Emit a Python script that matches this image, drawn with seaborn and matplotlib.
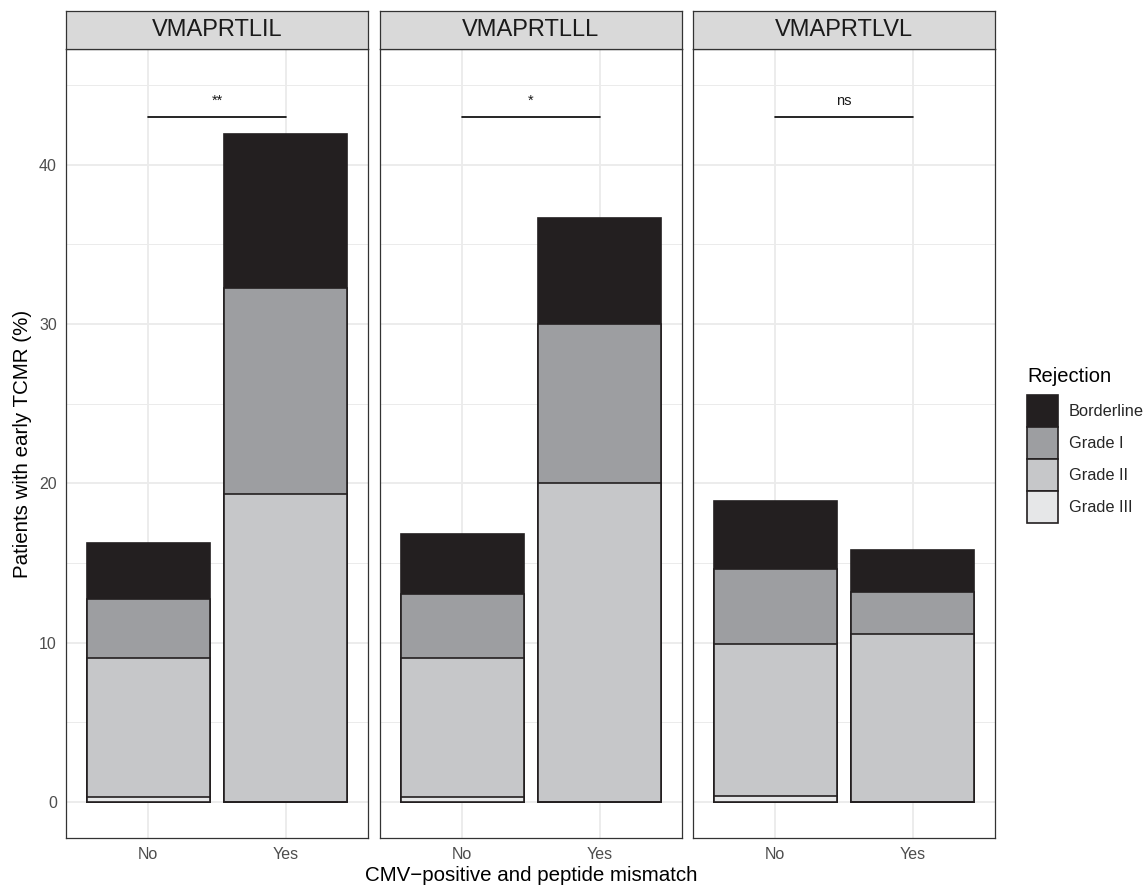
import numpy as np
import pandas as pd
import matplotlib
matplotlib.use("Agg")
import matplotlib.pyplot as plt
from matplotlib.patches import Patch
from matplotlib.ticker import MultipleLocator, FixedLocator
import seaborn as sns

# ---------------- data ----------------
peptides = ["VMAPRTLIL", "VMAPRTLLL", "VMAPRTLVL"]
mismatch = ["No", "Yes"]
grades = ["Borderline", "Grade I", "Grade II", "Grade III"]
# segment percentages per peptide: [No, Yes]
borderline = [[3.52, 9.68], [3.81, 6.67], [4.25, 2.63]]
grade_i = [[3.70, 12.90], [3.99, 10.00], [4.73, 2.63]]
grade_ii = [[8.75, 19.35], [8.73, 20.00], [9.57, 10.53]]
grade_iii = [[0.31, 0.00], [0.31, 0.00], [0.35, 0.00]]
signif = ["**", "*", "ns"]
signif_y = 43.0
colors = ["#231F20", "#9D9EA1", "#C6C7C9", "#E6E7E8"]

seg = {"Borderline": borderline, "Grade I": grade_i,
       "Grade II": grade_ii, "Grade III": grade_iii}
rows = []
for pi, p in enumerate(peptides):
    for mi, m in enumerate(mismatch):
        for g in grades:
            rows.append(dict(peptide=p, cmv=m, grade=g, value=seg[g][pi][mi]))
df = pd.DataFrame(rows)
stack_order = ["Grade III", "Grade II", "Grade I", "Borderline"]
df["rank"] = df["grade"].map({g: i for i, g in enumerate(stack_order)})
df = df.sort_values(["peptide", "cmv", "rank"])
df["top"] = df.groupby(["peptide", "cmv"])["value"].cumsum()

# ---------------- style ----------------
sns.set_style("white")
plt.rcParams["font.family"] = ["Liberation Sans", "DejaVu Sans"]

W, H = 1148, 888
fig = plt.figure(figsize=(W / 100, H / 100), dpi=100)
fig.patch.set_facecolor("white")

panel_x = [66, 380, 693]
panel_w = 302
p_top, p_bot = 49.3, 837.7
strip_top = 10.7
edge = "#231F20"
border = "#333333"
palette = dict(zip(grades, colors))

axes = []
for i, p in enumerate(peptides):
    ax = fig.add_axes([panel_x[i] / W, (H - p_bot) / H, panel_w / W, (p_bot - p_top) / H])
    axes.append(ax)
    sub = df[df["peptide"] == p]
    sns.barplot(data=sub, x="cmv", y="top", hue="grade", hue_order=grades,
                order=mismatch, palette=palette, dodge=False, width=0.9,
                saturation=1, edgecolor=edge, linewidth=1.2, errorbar=None,
                legend=False, ax=ax)
    ax.set_xlim(-0.6, 1.6)
    ax.set_ylim(-2.25, 47.25)
    ax.yaxis.set_major_locator(FixedLocator([0, 10, 20, 30, 40]))
    ax.yaxis.set_minor_locator(MultipleLocator(5))
    ax.set_axisbelow(True)
    ax.grid(which="major", color="#EBEBEB", lw=1.3)
    ax.grid(which="minor", axis="y", color="#EBEBEB", lw=0.7)
    ax.tick_params(which="minor", length=0)
    ax.tick_params(which="major", length=3, width=0.9, color=border,
                   labelsize=11.5, labelcolor="#4D4D4D", pad=3.5)
    for s in ax.spines.values():
        s.set_visible(True)
        s.set_color(border)
        s.set_linewidth(0.9)
    ax.set_xlabel("")
    ax.set_ylabel("")
    if i > 0:
        ax.tick_params(axis="y", which="both", left=False, labelleft=False)
    # significance bracket
    ax.plot([0, 1], [signif_y, signif_y], color="black", lw=1.2)
    ax.text(0.5, signif_y + 0.75, signif[i], ha="center", va="baseline",
            fontsize=10.5, color="#1A1A1A")
    # strip
    sax = fig.add_axes([panel_x[i] / W, (H - p_top) / H, panel_w / W, (p_top - strip_top) / H])
    sax.set_facecolor("#D9D9D9")
    sax.set_xticks([])
    sax.set_yticks([])
    for s in sax.spines.values():
        s.set_visible(True)
        s.set_color(border)
        s.set_linewidth(0.9)
    sax.text(0.5, 0.5, p, ha="center", va="center", fontsize=17,
             color="#1A1A1A", transform=sax.transAxes)

axes[0].set_ylabel("Patients with early TCMR (%)", fontsize=14.8, color="black", labelpad=5)
axes[1].set_xlabel("CMV\u2212positive and peptide mismatch", fontsize=14.8,
                   color="black", labelpad=3)

# legend (title drawn separately to allow a gap above the keys)
fig.text(1027 / W, 1 - 382 / H, "Rejection", ha="left", va="baseline",
         fontsize=14.5, color="black")
handles = [Patch(facecolor=c, edgecolor=edge, lw=1.2, label=g) for g, c in zip(grades, colors)]
leg = fig.legend(handles=handles, loc="upper left",
                 bbox_to_anchor=(1026.5 / W, 1 - 395 / H), frameon=False,
                 fontsize=11.8, handlelength=1.9,
                 handleheight=2.62, labelspacing=0, handletextpad=0.7,
                 borderpad=0, borderaxespad=0)

fig.savefig("out.png", dpi=100, facecolor="white")
